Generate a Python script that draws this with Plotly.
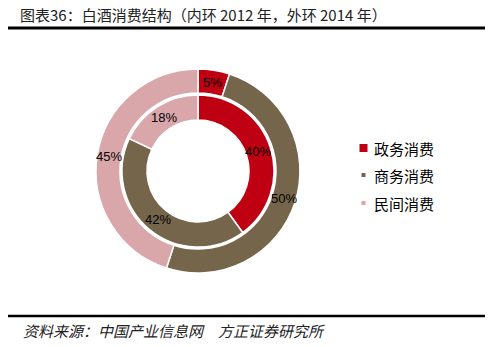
import math
import plotly.graph_objects as go

W, H = 490, 347
labels = ["政务消费", "商务消费", "民间消费"]
inner_2012 = [40, 42, 18]
outer_2014 = [5, 50, 45]
colors = ["#BF0012", "#75654B", "#D9A6AA"]

CX, CY = 198, 171
R_OUT, R_OUT_HOLE = 102, 78
R_IN, R_IN_HOLE = 76, 51

def px_dom(cx, cy, r):
    return dict(x=[(cx - r) / W, (cx + r) / W], y=[(H - cy - r) / H, (H - cy + r) / H])

fig = go.Figure()
for vals, r, rh in [(outer_2014, R_OUT, R_OUT_HOLE), (inner_2012, R_IN, R_IN_HOLE)]:
    fig.add_trace(go.Pie(
        labels=labels, values=vals, sort=False, direction="clockwise", rotation=0,
        hole=rh / r, domain=px_dom(CX, CY, r),
        marker=dict(colors=colors, line=dict(color="white", width=1.5)),
        textinfo="none", hoverinfo="label+percent", showlegend=False,
    ))

annotations = []
# percentage labels at ring mid-radius, computed from the data
for vals, r, rh in [(outer_2014, R_OUT, R_OUT_HOLE), (inner_2012, R_IN, R_IN_HOLE)]:
    total = sum(vals)
    cum = 0
    rm = (r + rh) / 2
    for v in vals:
        mid = (cum + v / 2) / total * 2 * math.pi
        cum += v
        x = CX + rm * math.sin(mid)
        y = CY - rm * math.cos(mid)
        annotations.append(dict(
            text=f"{round(v / total * 100)}%", xref="paper", yref="paper",
            x=x / W, y=(H - y) / H, xanchor="center", yanchor="middle", showarrow=False,
            font=dict(size=13, color="black", family="Liberation Sans, Arial")))

# legend (manual)
shapes = []
leg_y = [148, 175, 203]
leg_sz = [8, 4, 4]
for lab, col, yy, s in zip(labels, colors, leg_y, leg_sz):
    cxm = 363.5
    shapes.append(dict(type="rect", xref="paper", yref="paper",
                       x0=(cxm - s / 2) / W, x1=(cxm + s / 2) / W,
                       y0=(H - yy - s / 2) / H, y1=(H - yy + s / 2) / H,
                       fillcolor=col, line=dict(width=0)))
    annotations.append(dict(text=lab, xref="paper", yref="paper", x=372 / W, y=(H - yy) / H,
                            xanchor="left", yanchor="middle", showarrow=False,
                            font=dict(size=15, color="black", family="Noto Sans CJK SC")))

shapes += [
    dict(type="line", xref="paper", yref="paper", x0=8 / W, x1=485 / W,
         y0=(H - 28) / H, y1=(H - 28) / H, line=dict(color="black", width=3)),
    dict(type="line", xref="paper", yref="paper", x0=8 / W, x1=485 / W,
         y0=(H - 316) / H, y1=(H - 316) / H, line=dict(color="black", width=2.5)),
]
annotations += [
    dict(text="图表36：白酒消费结构（内环 2012 年，外环 2014 年）", xref="paper", yref="paper",
         x=18 / W, y=(H - 15) / H, xanchor="left", yanchor="middle", showarrow=False,
         font=dict(size=15, color="#222", family="Noto Sans CJK SC")),
    dict(text="<i>资料来源：中国产业信息网　方正证券研究所</i>", xref="paper", yref="paper",
         x=21 / W, y=(H - 330) / H, xanchor="left", yanchor="middle", showarrow=False,
         font=dict(size=15, color="#222", family="Noto Sans CJK SC")),
]

fig.update_layout(
    width=W, height=H, margin=dict(l=0, r=0, t=0, b=0),
    paper_bgcolor="white", plot_bgcolor="white",
    font=dict(family="Noto Sans CJK SC", color="black"),
    showlegend=False, shapes=shapes, annotations=annotations,
)
fig.write_html("out.html")
